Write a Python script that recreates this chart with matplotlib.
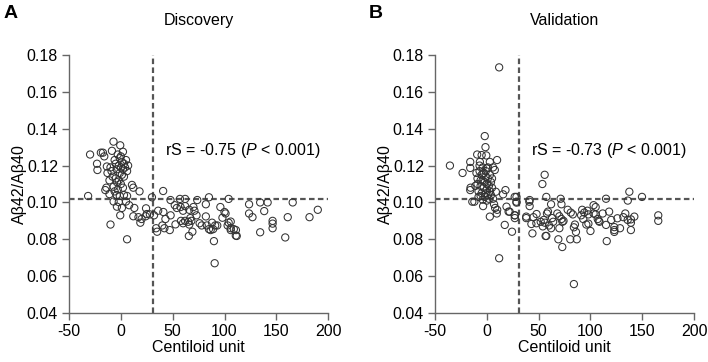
import matplotlib
matplotlib.use('Agg')
import matplotlib.pyplot as plt
import numpy as np

plt.rcParams['font.family'] = ['Liberation Sans', 'DejaVu Sans']
plt.rcParams['mathtext.fontset'] = 'custom'
plt.rcParams['mathtext.rm'] = 'Liberation Sans'
plt.rcParams['mathtext.it'] = 'Liberation Sans:italic'
plt.rcParams['axes.unicode_minus'] = False

# Discovery cohort (Centiloid, Abeta42/40)
disc_x = [-31.6, -29.7, -19.3, -17.3, -7.1, -0.6, -8.6, 2, -16, -23, -22.6, -13.5, -12.9, -11, -7, -3.8,
          -3, -1, 1, 3, 5, -2, 0, 2, 4, 6, -4, -1, 1, 3, -5, -6, 0, 7, -9, -8, -5, -2, 0, -10, -3, 2, -6,
          10.7, 12, 18, -15, -14, -11, -4, -1, 3, 6, -7, -2, 5, -3.8, 1, 8, 13, -0.6, 12, 17, 24, 28,
          -10, 18.8, 6,
          40.8, 30, 47.9, 57, 62, 73.7, 85, 104, 24.3, 25, 20, 32, 36, 41, 43, 48, 52, 54, 57.6, 62, 60,
          66, 70, 82, 96, 100, 101, 98, 82, 73, 71, 58, 62, 65, 68, 67, 66, 60, 52.7, 47.2, 40, 42, 34,
          35, 69, 65.6, 76, 78, 83, 85, 88, 91, 93, 89, 86.6, 104, 103, 106, 106, 111, 111.8, 89.8, 90.5,
          123.7, 134.4, 141.6, 165.8, 138.3, 123.7, 127, 146.4, 146.4, 146.4, 161, 182, 190, 134.4,
          158.6, 109, 110.9, 106]
disc_y = [0.1035, 0.126, 0.127, 0.127, 0.133, 0.131, 0.128, 0.1275, 0.125, 0.121, 0.1176, 0.1195, 0.116,
          0.112, 0.1085, 0.111,
          0.126, 0.124, 0.122, 0.121, 0.123, 0.120, 0.119, 0.118, 0.119, 0.117, 0.118, 0.116, 0.115,
          0.114, 0.121, 0.123, 0.125, 0.120, 0.117, 0.114, 0.113, 0.112, 0.110, 0.119, 0.107, 0.108,
          0.106,
          0.1095, 0.108, 0.106, 0.1067, 0.108, 0.1045, 0.104, 0.1035, 0.104, 0.1035, 0.1005, 0.1002,
          0.1005, 0.0977, 0.097, 0.0985, 0.097, 0.093, 0.0925, 0.092, 0.0925, 0.0935,
          0.088, 0.089, 0.080,
          0.1062, 0.1028, 0.1013, 0.1019, 0.1019, 0.1013, 0.1028, 0.1019, 0.0968, 0.0937, 0.091, 0.093,
          0.0955, 0.0948, 0.091, 0.093, 0.0985, 0.097, 0.0975, 0.098, 0.0955, 0.096, 0.0975, 0.099,
          0.0975, 0.0948, 0.094, 0.0917, 0.0924, 0.093, 0.0955, 0.090, 0.090, 0.0895, 0.090, 0.0915,
          0.088, 0.0887, 0.0881, 0.085, 0.0875, 0.086, 0.086, 0.0841, 0.0841, 0.0818, 0.0887, 0.0875,
          0.0875, 0.0855, 0.089, 0.0875, 0.0875, 0.0855, 0.085, 0.089, 0.0875, 0.086, 0.085, 0.085,
          0.0818, 0.079, 0.067,
          0.099, 0.100, 0.100, 0.100, 0.0953, 0.094, 0.092, 0.090, 0.0885, 0.086, 0.092, 0.092, 0.096,
          0.0838, 0.081, 0.0855, 0.082, 0.0896]

# Validation cohort
val_x = [11.9, -2, -1.3, -35.6, -23.4, -9.3, -5, -16, -6.7, -0.5, 2.9, 9.9, -16, -4, 0, 7.7, 6, -15.7,
         -16, -9, -6, -8, 8.7, 18, 26.9, 15.7, -14, -12, -3.6, 2.9, 9.6, 8, 7, 10, 19, 21, 22, 28.6,
         26.9, 27, 17.3, 24.3,
         -7, -5, -3, -1, 1, 3, -4, -2, 0, 2, 4, -6, -3, 0, 3, -1, 1, -5, -8, 5, -2, 2, -4, 0, -1, 1,
         -9, -10, 4, -6, 6, -11, 5, -7,
         47.8, 41, 44, 56.7, 55.8, 53.6, 57.4, 11.9, 84, 71.2, 72, 62, 41.3, 41.3, 28.6, 28.6, 27, 38,
         38, 43, 48, 45, 57.4, 55, 58, 59, 56, 60, 62, 64, 63, 52, 54, 68, 70, 72, 73, 74, 70, 69,
         72.8, 78, 81, 83, 80.5, 86.8, 84, 85, 86, 92, 94, 97, 98, 91, 93, 96, 98, 100, 103, 105, 103,
         105, 107, 108,
         111.8, 118, 115, 120, 123, 123, 123, 126, 128.5, 131.7, 133.6, 135.9, 139, 139, 139, 142.3,
         115.7, 108.7, 137.5, 136, 149.7, 115, 165.4, 165.4]
val_y = [0.1733, 0.136, 0.130, 0.120, 0.116, 0.126, 0.1257, 0.122, 0.122, 0.1255, 0.122, 0.123, 0.1187,
         0.119, 0.1185, 0.1176, 0.119, 0.108, 0.1067, 0.110, 0.112, 0.103, 0.1058, 0.1067, 0.103,
         0.1044, 0.1004, 0.1004, 0.098, 0.0923, 0.094, 0.097, 0.099, 0.096, 0.0977, 0.095, 0.095,
         0.1004, 0.093, 0.0915, 0.0878, 0.0841,
         0.117, 0.115, 0.116, 0.114, 0.113, 0.115, 0.112, 0.111, 0.110, 0.109, 0.111, 0.109, 0.108,
         0.107, 0.106, 0.105, 0.104, 0.105, 0.106, 0.108, 0.103, 0.102, 0.1015, 0.101, 0.117, 0.119,
         0.113, 0.116, 0.104, 0.1035, 0.102, 0.109, 0.113, 0.120,
         0.0887, 0.1004, 0.0832, 0.0818, 0.115, 0.110, 0.103, 0.0697, 0.0557, 0.102, 0.099, 0.099,
         0.1013, 0.098, 0.103, 0.0999, 0.093, 0.0923, 0.0915, 0.0883, 0.0937, 0.092, 0.0818, 0.0905,
         0.094, 0.095, 0.089, 0.0875, 0.086, 0.0895, 0.0915, 0.0895, 0.087, 0.094, 0.0925, 0.091,
         0.0895, 0.090, 0.086, 0.080, 0.0758, 0.096, 0.0945, 0.0935, 0.080, 0.080, 0.0865, 0.088,
         0.084, 0.096, 0.0945, 0.0955, 0.0935, 0.093, 0.091, 0.088, 0.0885, 0.0845, 0.0985, 0.0975,
         0.094, 0.0935, 0.091, 0.090,
         0.094, 0.095, 0.0878, 0.0905, 0.0866, 0.085, 0.084, 0.0914, 0.086, 0.092, 0.094, 0.0905,
         0.0908, 0.089, 0.085, 0.0923, 0.079, 0.0895, 0.1058, 0.101, 0.103, 0.102, 0.093, 0.090]

panels = [('A', 'Discovery', disc_x, disc_y, '-0.75'),
          ('B', 'Validation', val_x, val_y, '-0.73')]
cutoff_cl = 31
cutoff_ratio = 0.102
yticks = [0.04, 0.06, 0.08, 0.10, 0.12, 0.14, 0.16, 0.18]
xticks = [-50, 0, 50, 100, 150, 200]

fig = plt.figure(figsize=(7.08, 3.62), dpi=100)
lefts = [0.0975, 0.6144]
axis_col = '#666666'
fs = 11.5

for (letter, title, xs, ys, rs), left in zip(panels, lefts):
    ax = fig.add_axes([left, 0.1354, 0.366, 0.7126])
    ax.scatter(xs, ys, s=27, facecolors='none', edgecolors='#333333', linewidths=0.75, clip_on=False, zorder=3)
    ax.axvline(cutoff_cl, color='#555555', lw=1.6, ls=(0, (2.5, 1.5)), zorder=2)
    ax.axhline(cutoff_ratio, color='#555555', lw=1.6, ls=(0, (2.5, 1.5)), zorder=2)
    ax.set_xlim(-50, 200)
    ax.set_ylim(0.04, 0.18)
    ax.set_xticks(xticks)
    ax.set_yticks(yticks)
    ax.set_yticklabels(['%.2f' % v for v in yticks])
    for s in ['top', 'right']:
        ax.spines[s].set_visible(False)
    for s in ['left', 'bottom']:
        ax.spines[s].set_color(axis_col)
        ax.spines[s].set_linewidth(1.0)
    ax.tick_params(colors=axis_col, labelcolor='black', labelsize=fs, length=5, width=1.0, pad=3)
    ax.set_xlabel('Centiloid unit', fontsize=fs, labelpad=1)
    ax.set_ylabel('A\u03b242/A\u03b240', fontsize=fs, labelpad=0)
    ax.text(43, 0.128, 'rS = ' + rs + r' ($\mathit{P}$ < 0.001)', fontsize=fs, va='center', ha='left')
    fig.text(left + 0.183, 0.943, title, ha='center', va='center', fontsize=fs)
    fig.text(left - 0.093, 0.963, letter, fontsize=14, fontweight='bold', ha='left', va='center')

fig.savefig('out.png', dpi=100)
